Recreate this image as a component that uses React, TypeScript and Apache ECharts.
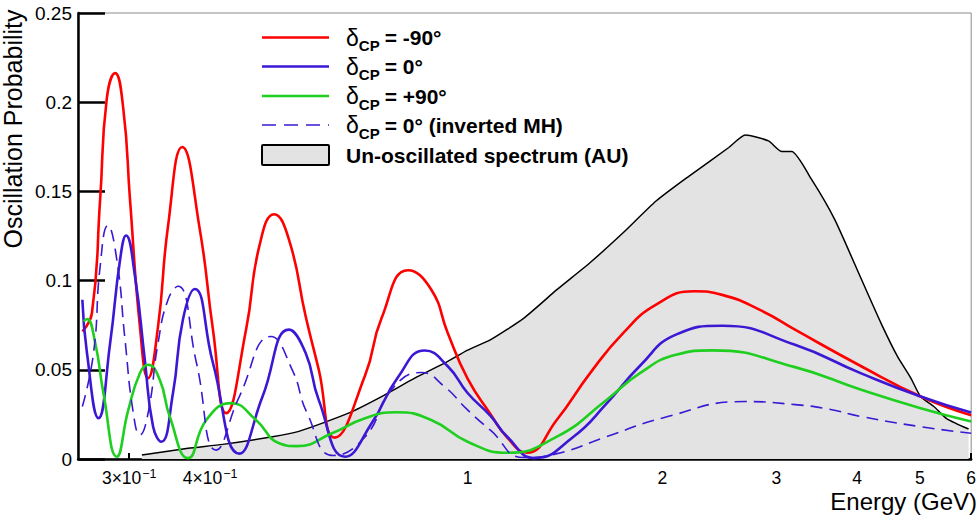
import React, { useEffect, useRef } from "react";
import * as echarts from "echarts";

// ---- axis values ----
const energyMin = 0.25;
const energyMax = 6.001;
const probMin = 0;
const probMax = 0.25;
const probStep = 0.05;
const xTickValues = [0.3, 0.4, 0.5, 0.6, 0.7, 0.8, 0.9, 2, 3, 4, 5, 6];
const xMajorTickValues = [1];
const xLabelValues = [0.3, 0.4, 1, 2, 3, 4, 5, 6];
const yTitle = "Oscillation Probability";
const xTitle = "Energy (GeV)";

// ---- legend ----
const legendDeltaSuffix = ["= -90°", "= 0°", "= +90°", "= 0° (inverted MH)"];
const legendSpectrumLabel = "Un-oscillated spectrum (AU)";

// ---- series: [energy GeV, probability] ----
const deltaMinus90: [number, number][] = [
  [0.2539, 0.0715], [0.2627, 0.0818], [0.2705, 0.1455], [0.2769, 0.2017],
  [0.2853, 0.2163], [0.2938, 0.196], [0.3008, 0.1455], [0.3116, 0.0743],
  [0.3208, 0.0453], [0.3324, 0.0743], [0.3444, 0.1305], [0.3622, 0.1749],
  [0.3856, 0.1287], [0.4041, 0.0725], [0.4236, 0.0257], [0.4546, 0.0725],
  [0.4766, 0.1193], [0.5024, 0.1372], [0.5296, 0.123], [0.562, 0.08],
  [0.5889, 0.05], [0.6232, 0.012], [0.6945, 0.047], [0.7364, 0.079],
  [0.8091, 0.1058], [0.8785, 0.095], [0.9318, 0.0706], [1.0, 0.045],
  [1.0857, 0.025], [1.1516, 0.012], [1.235, 0.0035], [1.374, 0.022],
  [1.5455, 0.048], [1.7391, 0.0706], [1.9556, 0.0865], [2.2387, 0.094],
  [2.4745, 0.092], [2.8505, 0.083], [3.2059, 0.0725], [4.0573, 0.052],
  [5.013, 0.035], [6.0, 0.0245],
];

const delta0: [number, number][] = [
  [0.2539, 0.0893], [0.2581, 0.0594], [0.2689, 0.0229], [0.2803, 0.065],
  [0.2904, 0.1118], [0.2966, 0.1253], [0.3062, 0.1024], [0.3171, 0.0556],
  [0.3266, 0.0181], [0.3363, 0.0097], [0.3505, 0.0369], [0.3631, 0.0781],
  [0.3788, 0.0953], [0.4041, 0.0538], [0.4439, 0.003], [0.4821, 0.035],
  [0.5296, 0.0725], [0.562, 0.0594], [0.5889, 0.033], [0.6471, 0.0013],
  [0.7108, 0.02], [0.781, 0.046], [0.8583, 0.0608], [0.9318, 0.052],
  [1.0, 0.037], [1.0857, 0.024], [1.1516, 0.0125], [1.27, 0.0005],
  [1.4577, 0.0125], [1.6393, 0.031], [1.844, 0.052], [2.0986, 0.0697],
  [2.4745, 0.0747], [3.2059, 0.064], [4.0573, 0.048], [5.013, 0.035],
  [6.0, 0.026],
];

const deltaPlus90: [number, number][] = [
  [0.2551, 0.0771], [0.2581, 0.0785], [0.2658, 0.065], [0.2737, 0.0369],
  [0.287, 0.0013], [0.299, 0.0275], [0.3116, 0.0481], [0.3208, 0.0528],
  [0.3344, 0.0444], [0.3465, 0.0238], [0.3699, 0.0005], [0.3947, 0.0219],
  [0.4312, 0.0313], [0.471, 0.0219], [0.5113, 0.0088], [0.545, 0.0072],
  [0.6172, 0.0144], [0.6945, 0.0229], [0.7763, 0.0262], [0.8785, 0.0219],
  [1.0, 0.0097], [1.1516, 0.0035], [1.374, 0.0125], [1.6393, 0.0331],
  [1.844, 0.048], [2.0986, 0.0584], [2.3887, 0.0609], [3.2059, 0.0515],
  [4.0573, 0.0388], [5.013, 0.0285], [6.0, 0.021],
];

const delta0Inverted: [number, number][] = [
  [0.2539, 0.0294], [0.2642, 0.0594], [0.2705, 0.108], [0.278, 0.1309],
  [0.287, 0.1118], [0.2955, 0.0669], [0.3044, 0.0257], [0.3116, 0.0135],
  [0.3208, 0.0257], [0.3324, 0.065], [0.3444, 0.0893], [0.3568, 0.0968],
  [0.3811, 0.0538], [0.4089, 0.005], [0.4439, 0.035], [0.4966, 0.0687],
  [0.5358, 0.05], [0.5651, 0.0257], [0.62, 0.002], [0.6945, 0.0125],
  [0.7628, 0.0388], [0.8481, 0.0485], [0.921, 0.0406], [1.0, 0.0275],
  [1.0857, 0.016], [1.22, 0.0008], [1.374, 0.003], [1.6393, 0.0125],
  [2.0024, 0.023], [2.6867, 0.0322], [3.2059, 0.0305], [3.6058, 0.028],
  [4.0573, 0.0238], [5.013, 0.0181], [6.0, 0.0144],
];

const spectrum: [number, number][] = [
  [0.3138, 0.0022], [0.3699, 0.006], [0.4185, 0.0082], [0.4995, 0.0125],
  [0.5486, 0.0155], [0.6546, 0.0257], [0.7364, 0.035], [0.8285, 0.0453],
  [0.9318, 0.0547], [1.0, 0.061], [1.0857, 0.0669], [1.2218, 0.079],
  [1.374, 0.0949], [1.5455, 0.11], [1.7391, 0.1268], [1.9556, 0.1446],
  [2.1995, 0.1586], [2.5332, 0.1746], [2.6867, 0.1816], [2.9174, 0.1783],
  [3.0588, 0.1723], [3.169, 0.1723], [3.4004, 0.1567], [3.6917, 0.1343],
  [4.0573, 0.101], [4.3533, 0.0762], [4.6165, 0.0575], [4.8395, 0.0455],
  [5.013, 0.035], [5.2541, 0.0294], [5.5069, 0.0225], [5.9455, 0.0168],
];

const FONT = "'Liberation Sans', Arial, Helvetica, sans-serif";
const RED = "#ff0000";
const BLUE = "#3c18d4";
const GREEN = "#1fcf1f";

const GRID = { left: 78, right: 1, top: 13, bottom: 58 };

export default function App() {
  const ref = useRef<HTMLDivElement>(null);

  useEffect(() => {
    if (!ref.current) return;
    const chart = echarts.init(ref.current, null, { renderer: "svg" });

    const legendColors = [RED, BLUE, GREEN, BLUE];
    const legendRowsY = [37.5, 66.5, 96, 125];
    const legendGraphics: any[] = [];
    legendDeltaSuffix.forEach((suffix, i) => {
      const y = legendRowsY[i];
      legendGraphics.push({
        type: "line",
        shape: { x1: 262, y1: y, x2: 329, y2: y },
        style: {
          stroke: legendColors[i],
          lineWidth: i === 3 ? 1.6 : 2.6,
          lineDash: i === 3 ? [14, 8] : null,
        },
      });
      legendGraphics.push({
        type: "text",
        x: 346,
        y: y,
        style: {
          text: `{d|δ}{s|CP}{b|${suffix}}`,
          verticalAlign: "middle",
          align: "left",
          fill: "#000",
          rich: {
            d: { fontSize: 23, fontFamily: FONT, fontWeight: "normal", fill: "#000" },
            s: { fontSize: 15, fontFamily: FONT, fontWeight: "bold", padding: [16, 0, 0, 0], fill: "#000" },
            b: { fontSize: 21, fontFamily: FONT, fontWeight: "bold", padding: [0, 0, 0, 5], fill: "#000" },
          },
        },
      });
    });
    legendGraphics.push({
      type: "rect",
      shape: { x: 262, y: 145, width: 67, height: 20, r: 1 },
      style: { fill: "#e3e3e3", stroke: "#000", lineWidth: 2 },
    });
    legendGraphics.push({
      type: "text",
      x: 346,
      y: 155,
      style: {
        text: legendSpectrumLabel,
        font: `bold 21px ${FONT}`,
        fill: "#000",
        verticalAlign: "middle",
        align: "left",
      },
    });

    const titleGraphics = [
      {
        type: "text",
        x: 12.5,
        y: 129,
        rotation: Math.PI / 2,
        style: {
          text: yTitle,
          font: `25px ${FONT}`,
          fill: "#000",
          align: "center",
          verticalAlign: "middle",
        },
      },
      {
        type: "text",
        x: 977,
        y: 501.5,
        style: {
          text: xTitle,
          font: `24px ${FONT}`,
          fill: "#000",
          align: "right",
          verticalAlign: "middle",
        },
      },
    ];

    const lineSeries = (name: string, data: [number, number][], color: string, dashed = false) => ({
      type: "line",
      name,
      data,
      smooth: 0.5,
      showSymbol: false,
      symbol: "none",
      xAxisIndex: 0,
      yAxisIndex: 0,
      z: 3,
      lineStyle: {
        color,
        width: dashed ? 1.6 : 2.6,
        type: dashed ? [12, 7] : "solid",
      },
    });

    chart.setOption({
      animation: false,
      backgroundColor: "#ffffff",
      grid: [
        { ...GRID, show: true, borderColor: "#8a8a8a", borderWidth: 1, backgroundColor: "transparent" },
        { ...GRID, show: false },
      ],
      xAxis: [
        {
          type: "log",
          gridIndex: 0,
          min: energyMin,
          max: energyMax,
          logBase: 10,
          axisLine: { show: true, onZero: false, lineStyle: { color: "#000", width: 2.5 } },
          axisTick: {
            show: true,
            inside: true,
            length: 6,
            customValues: xTickValues,
            lineStyle: { color: "#000", width: 2 },
          },
          minorTick: { show: false },
          axisLabel: {
            show: true,
            customValues: xLabelValues,
            margin: 10,
            lineHeight: 18,
            color: "#000",
            fontSize: 17.5,
            fontFamily: FONT,
            showMinLabel: true,
            showMaxLabel: true,
            hideOverlap: false,
            formatter: (v: number) =>
              v < 1 ? `{m|${Math.round(v * 10)}×10}{e|−1}` : `{m|${Math.round(v)}}`,
            rich: {
              m: { fontSize: 17.5, fontFamily: FONT, color: "#000", lineHeight: 18 },
              e: { fontSize: 12.5, fontFamily: FONT, color: "#000", lineHeight: 18, padding: [0, 0, 9, 1] },
            },
          },
          splitLine: { show: false },
        },
        {
          type: "log",
          gridIndex: 1,
          min: energyMin,
          max: energyMax,
          logBase: 10,
          axisLine: { show: false },
          axisTick: {
            show: true,
            inside: true,
            length: 12,
            customValues: xMajorTickValues,
            lineStyle: { color: "#000", width: 2 },
          },
          axisLabel: { show: false },
          splitLine: { show: false },
        },
      ],
      yAxis: [
        {
          type: "value",
          gridIndex: 0,
          min: probMin,
          max: probMax,
          interval: probStep,
          axisLine: { show: true, lineStyle: { color: "#000", width: 2.5 } },
          axisTick: { show: true, inside: true, length: 27, lineStyle: { color: "#000", width: 2.5 } },
          axisLabel: {
            color: "#000",
            fontSize: 19,
            fontFamily: FONT,
            margin: 6,
            formatter: (v: number) => String(Math.round(v * 100) / 100),
          },
          splitLine: { show: false },
        },
        {
          type: "value",
          gridIndex: 1,
          min: probMin,
          max: probMax,
          show: false,
          splitLine: { show: false },
        },
      ],
      series: [
        {
          type: "line",
          name: legendSpectrumLabel,
          data: spectrum,
          smooth: 0.2,
          showSymbol: false,
          symbol: "none",
          xAxisIndex: 0,
          yAxisIndex: 0,
          z: 1,
          lineStyle: { color: "#000", width: 1.5 },
          areaStyle: { color: "#e3e3e3", opacity: 1 },
        },
        lineSeries("δCP = -90°", deltaMinus90, RED),
        lineSeries("δCP = 0°", delta0, BLUE),
        lineSeries("δCP = +90°", deltaPlus90, GREEN),
        lineSeries("δCP = 0° (inverted MH)", delta0Inverted, BLUE, true),
      ],
      graphic: [...legendGraphics, ...titleGraphics],
    });

    return () => chart.dispose();
  }, []);

  return (
    <div
      ref={ref}
      style={{ position: "absolute", left: 0, top: 0, width: 979, height: 517, background: "#fff" }}
    />
  );
}
